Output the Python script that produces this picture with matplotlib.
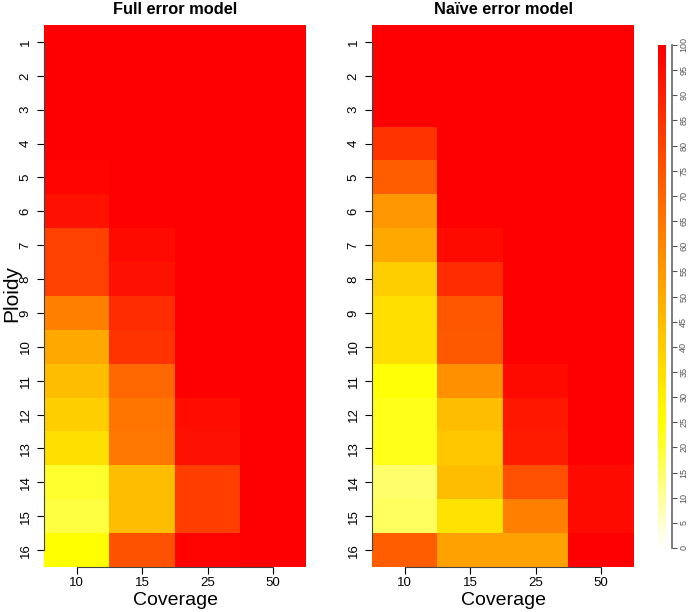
import colorsys
import numpy as np
import matplotlib
matplotlib.use("Agg")
import matplotlib.pyplot as plt
from matplotlib.colors import ListedColormap

plt.rcParams["font.family"] = ["Liberation Sans", "DejaVu Sans"]

ploidy = [str(i) for i in range(1, 17)]
coverage = ["10", "15", "25", "50"]

# percent correct, rows = ploidy 1..16
full_10 = [100, 100, 100, 100, 98, 94, 80, 80, 62, 50, 44, 39, 34, 20, 18, 25]
full_15 = [100, 100, 100, 100, 100, 99, 96, 94, 86, 84, 69, 65, 64, 44, 44, 75]
full_25 = [100, 100, 100, 100, 100, 100, 100, 100, 100, 99, 99, 95, 94, 81, 81, 98]
full_50 = [100, 100, 100, 100, 100, 100, 100, 100, 100, 100, 100, 99, 99, 99, 99, 99]

naive_10 = [100, 100, 99, 84, 72, 55, 50, 39, 34, 34, 24, 22, 22, 14, 15, 72]
naive_15 = [100, 100, 100, 100, 100, 99, 96, 86, 74, 73, 57, 44, 41, 44, 33, 53]
naive_25 = [100, 100, 100, 100, 100, 100, 100, 100, 100, 100, 96, 92, 91, 76, 62, 53]
naive_50 = [100, 100, 100, 100, 100, 100, 100, 100, 100, 100, 99, 99, 99, 96, 96, 100]

key_ticks = list(range(0, 101, 5))
titles = ["Full error model", "Na\u00efve error model"]


def heat_colors(n):
    # same recipe as R's heat.colors()
    j = n // 4
    i = n - j
    cols = [colorsys.hsv_to_rgb(h, 1, 1) for h in np.linspace(0, 1 / 6, i)]
    cols += [colorsys.hsv_to_rgb(1 / 6, s, 1)
             for s in np.linspace(1 - 1 / (2 * j), 1 / (2 * j), j)]
    return cols[::-1]


cmap = ListedColormap(heat_colors(100))

full = np.column_stack([full_10, full_15, full_25, full_50])
naive = np.column_stack([naive_10, naive_15, naive_25, naive_50])

W, H = 690, 612
fig = plt.figure(figsize=(W / 100, H / 100), dpi=100)

panels = [(44, full), (372, naive)]
for k, (x0, data) in enumerate(panels):
    ax = fig.add_axes([x0 / W, 45 / H, 262 / W, 542 / H])
    ax.imshow(data, cmap=cmap, vmin=0, vmax=100, aspect="auto",
              interpolation="nearest")
    ax.set_xticks(range(4))
    ax.set_xticklabels(coverage, fontsize=9.5)
    ax.set_yticks(range(16))
    ax.set_yticklabels(ploidy, fontsize=9.5, rotation=90, va="center")
    ax.spines["top"].set_visible(False)
    ax.spines["right"].set_visible(False)
    ax.spines["left"].set_bounds(0, 15)
    ax.spines["bottom"].set_bounds(0, 3)
    ax.spines["left"].set_color("#444444")
    ax.spines["bottom"].set_color("#444444")
    ax.tick_params(length=5, width=0.8, pad=2)
    ax.tick_params(axis="y", pad=4)
    ax.set_xlabel("Coverage", fontsize=14)
    ax.xaxis.set_label_coords(0.5, -0.047)
    if k == 0:
        ax.set_ylabel("Ploidy", fontsize=15)
        ax.yaxis.set_label_coords(-0.088, 0.505)
    fig.text((x0 + 131) / W, 1 - 9 / H, titles[k], ha="center", va="center",
             fontsize=11.8, fontweight="bold")

# colour key
cax = fig.add_axes([658 / W, 64 / H, 8 / W, 503 / H])
grad = np.linspace(0, 100, 256).reshape(-1, 1)
cax.imshow(grad, cmap=cmap, vmin=0, vmax=100, aspect="auto", origin="lower",
           extent=[0, 1, 0, 100])
cax.set_xticks([])
cax.yaxis.tick_right()
cax.set_yticks(key_ticks)
cax.set_yticklabels([str(v) for v in key_ticks])
for s in ["top", "left", "bottom"]:
    cax.spines[s].set_visible(False)
cax.spines["right"].set_position(("outward", 4.5))
cax.spines["right"].set_color("#666666")
cax.spines["right"].set_linewidth(1.2)
cax.tick_params(axis="y", length=3.5, width=0.8, color="#555555", pad=1.5,
                labelsize=6.5, labelcolor="#555555", labelrotation=90)
for t in cax.yaxis.get_major_ticks():
    t.label2.set_va("center")
    t.label2.set_ha("left")

fig.savefig("out.png", dpi=100)
